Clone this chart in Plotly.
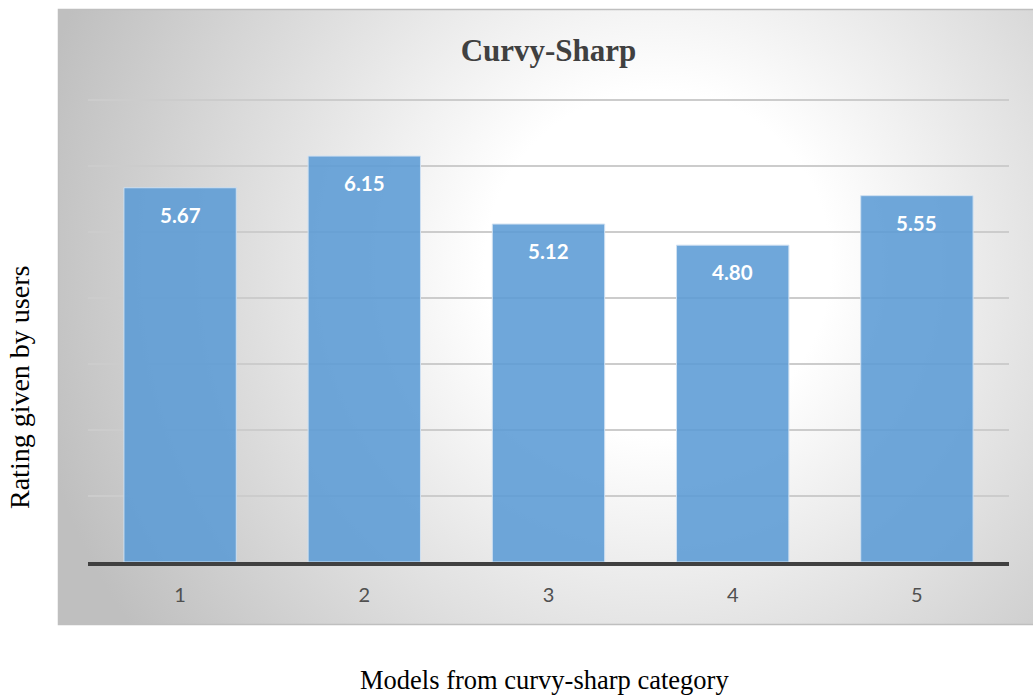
import base64
import plotly.graph_objects as go

# Ratings per model in the curvy-sharp category
models = ["1", "2", "3", "4", "5"]
ratings = [5.67, 6.15, 5.12, 4.80, 5.55]
grid_values = [1, 2, 3, 4, 5, 6, 7]
y_top = 7.06

W, H = 1033, 698
ML, MR, MT, MB = 88, 24, 96, 136
plot_w = W - ML - MR
plot_h = H - MT - MB

# Chart panel (pixel box) with a radial grey-to-white fill
panel_x0, panel_y0, panel_x1, panel_y1 = 58, 9, 1033, 625
pw, ph = panel_x1 - panel_x0, panel_y1 - panel_y0
svg = f"""<svg xmlns='http://www.w3.org/2000/svg' width='{pw}' height='{ph}' viewBox='0 0 {pw} {ph}' preserveAspectRatio='none'>
<defs><radialGradient id='g' gradientUnits='userSpaceOnUse' cx='600' cy='255' r='640'>
<stop offset='0' stop-color='#ffffff'/><stop offset='0.27' stop-color='#ffffff'/>
<stop offset='1' stop-color='#bfbfbf'/></radialGradient></defs>
<rect x='0' y='0' width='{pw}' height='{ph}' fill='url(#g)'/></svg>"""
svg_uri = "data:image/svg+xml;base64," + base64.b64encode(svg.encode()).decode()


def px_to_paper_x(px):
    return (px - ML) / plot_w


def px_to_paper_y(py):
    return (H - MB - py) / plot_h


fig = go.Figure()
fig.add_trace(go.Bar(
    x=models,
    y=ratings,
    width=0.61,
    marker=dict(color="rgba(91,155,213,0.88)", line=dict(color="#cfe0f1", width=1)),
    hoverinfo="skip",
))

# Value labels just inside the top of each bar (x given as category index)
for i, v in enumerate(ratings):
    fig.add_annotation(
        x=i, y=v, text=f"<b>{v:.2f}</b>", showarrow=False, yanchor="middle", yshift=-27,
        font=dict(family="Lato", size=20.5, color="white"),
    )

# Axis titles sit outside the shaded panel
fig.add_annotation(
    xref="paper", yref="paper", x=px_to_paper_x(544), y=px_to_paper_y(680),
    text="Models from curvy-sharp category", showarrow=False,
    xanchor="center", yanchor="middle",
    font=dict(family="Liberation Serif", size=26.5, color="#000000"),
)
fig.add_annotation(
    xref="paper", yref="paper", x=px_to_paper_x(19), y=px_to_paper_y(388),
    text="Rating given by users", showarrow=False, textangle=-90,
    xanchor="center", yanchor="middle",
    font=dict(family="Liberation Serif", size=28, color="#000000"),
)

fig.update_layout(
    width=W, height=H,
    margin=dict(l=ML, r=MR, t=MT, b=MB, pad=0),
    paper_bgcolor="white",
    plot_bgcolor="rgba(0,0,0,0)",
    showlegend=False,
    title=dict(
        text="<b>Curvy-Sharp</b>", x=0.5 * (ML + W - MR) / W, xanchor="center",
        y=1 - 50 / H, yanchor="middle", yref="container",
        font=dict(family="Liberation Serif", size=31, color="#404040"),
    ),
    images=[dict(
        source=svg_uri, xref="paper", yref="paper",
        x=px_to_paper_x(panel_x0), y=px_to_paper_y(panel_y0),
        sizex=pw / plot_w, sizey=ph / plot_h,
        xanchor="left", yanchor="top", sizing="stretch", layer="below",
    )],
    shapes=[dict(
        type="rect", xref="paper", yref="paper",
        x0=px_to_paper_x(panel_x0 + 0.5), x1=px_to_paper_x(panel_x1 + 2),
        y0=px_to_paper_y(panel_y1 - 0.5), y1=px_to_paper_y(panel_y0 + 0.5),
        line=dict(color="#bfbfbf", width=1.5), fillcolor="rgba(0,0,0,0)", layer="below",
    )],
    xaxis=dict(
        type="category", range=[-0.5, len(models) - 0.5],
        showgrid=False, zeroline=False,
        showline=True, linecolor="#404040", linewidth=3.5,
        ticks="", ticklabelstandoff=12,
        tickfont=dict(family="Lato", size=20, color="#505050"),
    ),
    yaxis=dict(
        range=[0, y_top], tickvals=grid_values, showticklabels=False,
        showgrid=True, gridcolor="#cccccc", gridwidth=1.5,
        zeroline=False, showline=False, ticks="",
    ),
)

fig.write_html("out.html")
